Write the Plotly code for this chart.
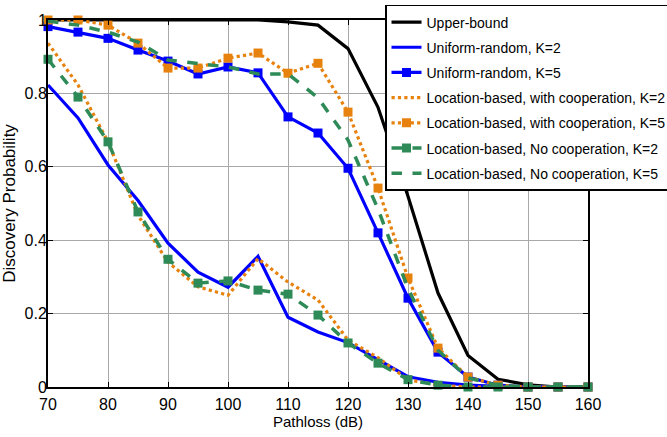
import plotly.graph_objects as go

# Path loss sweep (dB)
pathloss = [70, 75, 80, 85, 90, 95, 100, 105, 110, 115, 120, 125, 130, 135, 140, 145, 150, 155, 160]

upper_bound = [1.0, 1.0, 1.0, 1.0, 1.0, 1.0, 1.0, 1.0, 0.995, 0.986, 0.922, 0.762, 0.52, 0.256, 0.086, 0.021, 0.006, 0.0, 0.0]

uniform_k2 = [0.823, 0.733, 0.605, 0.508, 0.392, 0.313, 0.272, 0.356, 0.19, 0.15, 0.121, 0.074, 0.028, 0.013, 0.005, 0.002, 0.0, 0.0, 0.0]
uniform_k5 = [0.982, 0.967, 0.95, 0.918, 0.888, 0.853, 0.872, 0.856, 0.736, 0.692, 0.596, 0.42, 0.242, 0.095, 0.027, 0.005, 0.0, 0.0, 0.0]

coop_k2 = [0.937, 0.823, 0.668, 0.468, 0.34, 0.273, 0.25, 0.35, 0.286, 0.237, 0.128, 0.08, 0.02, 0.005, 0.0, 0.0, 0.0, 0.0, 0.0]
coop_k5 = [1.0, 1.0, 0.986, 0.937, 0.869, 0.869, 0.896, 0.91, 0.855, 0.882, 0.749, 0.542, 0.297, 0.106, 0.027, 0.005, 0.0, 0.0, 0.0]

nocoop_k2 = [0.893, 0.79, 0.668, 0.477, 0.348, 0.283, 0.289, 0.264, 0.253, 0.196, 0.12, 0.065, 0.02, 0.005, 0.0, 0.0, 0.0, 0.0, 0.0]
nocoop_k5 = [0.997, 0.986, 0.967, 0.94, 0.891, 0.882, 0.872, 0.853, 0.853, 0.788, 0.673, 0.485, 0.268, 0.1, 0.025, 0.004, 0.0, 0.0, 0.0]

x_ticks = [70, 80, 90, 100, 110, 120, 130, 140, 150, 160]
y_ticks = [0, 0.2, 0.4, 0.6, 0.8, 1]
y_tick_text = ["0", "0.2", "0.4", "0.6", "0.8", "1"]

BLUE = "#0000ff"
ORANGE = "#e8820e"
GREEN = "#2e8b57"
SANS = "Liberation Sans, Arial, sans-serif"

series = [
    ("Upper-bound", upper_bound, "black", "solid", False, 3.2),
    ("Uniform-random, K=2", uniform_k2, BLUE, "solid", False, 3.2),
    ("Uniform-random, K=5", uniform_k5, BLUE, "solid", True, 3.2),
    ("Location-based, with cooperation, K=2", coop_k2, ORANGE, "dot", False, 3.2),
    ("Location-based, with cooperation, K=5", coop_k5, ORANGE, "dot", True, 3.2),
    ("Location-based, No cooperation, K=2", nocoop_k2, GREEN, "dash", True, 3.5),
    ("Location-based, No cooperation, K=5", nocoop_k5, GREEN, "dash", False, 3.5),
]

fig = go.Figure()
for i, (name, values, color, dash, markers, width) in enumerate(series):
    fig.add_trace(go.Scatter(
        x=pathloss,
        y=values,
        name=name,
        legendgroup=f"g{i}",
        mode="lines+markers" if markers else "lines",
        line=dict(color=color, dash=dash, width=width),
        marker=dict(symbol="square", size=9, color=color) if markers else None,
        cliponaxis=False,
    ))

axis_common = dict(
    showline=True,
    linecolor="black",
    linewidth=2,
    mirror="ticks",
    ticks="inside",
    ticklen=5,
    tickwidth=1,
    tickcolor="black",
    showgrid=True,
    gridcolor="#a8a8a8",
    gridwidth=1,
    zeroline=False,
    tickfont=dict(family=SANS, size=16, color="black"),
)

fig.update_xaxes(
    range=[70, 160],
    tickvals=x_ticks,
    ticklabelstandoff=2,
    title=dict(text="Pathloss (dB)", font=dict(family=SANS, size=15, color="black"), standoff=2),
    **axis_common,
)
fig.update_yaxes(
    range=[0, 1],
    tickvals=y_ticks,
    ticktext=y_tick_text,
    ticklabelstandoff=-4,
    title=dict(text="Discovery Probability", font=dict(family=SANS, size=17, color="black"), standoff=5),
    **axis_common,
)

fig.update_layout(
    width=667,
    height=437,
    margin=dict(l=48, r=79, t=20, b=50, autoexpand=False),
    plot_bgcolor="white",
    paper_bgcolor="white",
    showlegend=True,
    legend=dict(
        x=(385 - 48) / 540,
        y=1.041,
        xanchor="left",
        yanchor="top",
        bgcolor="white",
        bordercolor="black",
        borderwidth=1.5,
        tracegroupgap=4,
        itemwidth=30,
        font=dict(family=SANS, size=14, color="black"),
    ),
)

fig.write_html("out.html")
